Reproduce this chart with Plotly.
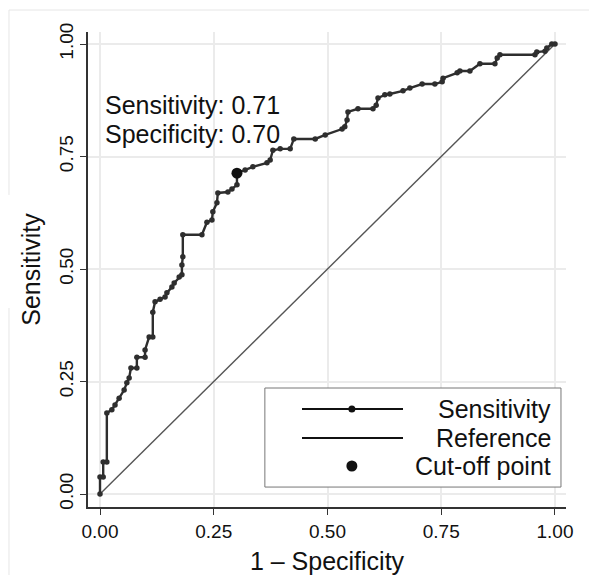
import plotly.graph_objects as go

# ROC curve points (1 - specificity, sensitivity)
fpr = [0.000, 0.000, 0.007, 0.007, 0.015, 0.015, 0.026, 0.033, 0.042, 0.053,
       0.059, 0.064, 0.068, 0.081, 0.081, 0.099, 0.099, 0.108, 0.116, 0.116,
       0.121, 0.132, 0.143, 0.147, 0.158, 0.163, 0.174, 0.180, 0.180, 0.182,
       0.182, 0.224, 0.235, 0.246, 0.248, 0.257, 0.259, 0.281, 0.290, 0.301,
       0.301, 0.319, 0.336, 0.367, 0.374, 0.380, 0.396, 0.418, 0.426, 0.473,
       0.495, 0.532, 0.538, 0.543, 0.545, 0.567, 0.600, 0.607, 0.611, 0.626,
       0.637, 0.666, 0.681, 0.708, 0.736, 0.752, 0.754, 0.785, 0.791, 0.813,
       0.835, 0.868, 0.873, 0.879, 0.956, 0.960, 0.978, 0.982, 0.993, 1.000]
sens = [0.000, 0.038, 0.038, 0.071, 0.071, 0.180, 0.187, 0.198, 0.213, 0.231,
        0.247, 0.258, 0.280, 0.280, 0.304, 0.304, 0.320, 0.349, 0.349, 0.404,
        0.427, 0.433, 0.438, 0.447, 0.460, 0.469, 0.482, 0.487, 0.509, 0.527,
        0.576, 0.576, 0.604, 0.609, 0.627, 0.647, 0.669, 0.671, 0.678, 0.687,
        0.713, 0.720, 0.727, 0.736, 0.742, 0.764, 0.767, 0.767, 0.789, 0.789,
        0.798, 0.811, 0.816, 0.831, 0.849, 0.856, 0.856, 0.864, 0.880, 0.887,
        0.889, 0.896, 0.902, 0.911, 0.911, 0.916, 0.924, 0.936, 0.940, 0.940,
        0.956, 0.956, 0.969, 0.976, 0.976, 0.982, 0.984, 0.991, 1.000, 1.000]

ref_x = [0.0, 1.0]
ref_y = [0.0, 1.0]

cut_fpr = [0.301]
cut_sens = [0.713]
auc = 0.74

tick_vals = [0.0, 0.25, 0.5, 0.75, 1.0]
tick_text = ["0.00", "0.25", "0.50", "0.75", "1.00"]

legend_labels = ["Sensitivity", "Reference", "Cut-off point"]

FONT = "Liberation Sans, Arial, Helvetica, sans-serif"
DARK = "#2e2e2e"

fig = go.Figure()
fig.add_trace(go.Scatter(x=ref_x, y=ref_y, mode="lines",
                         line=dict(color="#555555", width=1.4),
                         showlegend=False, hoverinfo="skip"))
fig.add_trace(go.Scatter(x=fpr, y=sens, mode="lines+markers",
                         line=dict(color=DARK, width=2.4),
                         marker=dict(color=DARK, size=5.5),
                         showlegend=False))
fig.add_trace(go.Scatter(x=cut_fpr, y=cut_sens, mode="markers",
                         marker=dict(color="#111111", size=11),
                         showlegend=False))

# Annotations
fig.add_annotation(x=0.0066, y=0.864, xref="x", yref="y", xanchor="left",
                   yanchor="middle", showarrow=False,
                   text=f"Sensitivity: {cut_sens[0]:.2f}",
                   font=dict(family=FONT, size=25, color="#111"))
fig.add_annotation(x=0.0066, y=0.800, xref="x", yref="y", xanchor="left",
                   yanchor="middle", showarrow=False,
                   text=f"Specificity: {1 - cut_fpr[0]:.2f}",
                   font=dict(family=FONT, size=25, color="#111"))
fig.add_annotation(x=1.0615, y=0.32, xref="x", yref="y", xanchor="right",
                   yanchor="middle", showarrow=False,
                   text=f"Area under ROC curve = {auc:.2f}",
                   font=dict(family=FONT, size=25, color="#111"))

# Manual legend
shapes = []
shapes.append(dict(type="rect", xref="paper", yref="paper", x0=0.370, x1=0.9895,
                   y0=0.042, y1=0.2505, fillcolor="white",
                   line=dict(color="#777777", width=1), layer="above"))
rows = [0.2063, 0.1453, 0.0863]
for i, (lab, ry) in enumerate(zip(legend_labels, rows)):
    if i < 2:
        shapes.append(dict(type="line", xref="paper", yref="paper",
                           x0=0.4477, x1=0.659, y0=ry, y1=ry,
                           line=dict(color="#111111", width=2), layer="above"))
    if i != 1:
        r = 3.5 if i == 0 else 5.5
        shapes.append(dict(type="circle", xref="paper", yref="paper",
                           xsizemode="pixel", ysizemode="pixel",
                           xanchor=0.552, yanchor=ry,
                           x0=-r, x1=r, y0=-r, y1=r,
                           fillcolor="#111111", line=dict(color="#111111", width=0),
                           layer="above"))
    fig.add_annotation(x=0.9728, y=ry, xref="paper", yref="paper",
                       xanchor="right", yanchor="middle", showarrow=False,
                       text=lab, font=dict(family=FONT, size=25, color="#111"))

# Light outer frame (as in the scanned figure)
frame = dict(color="#e6e6e6", width=1)
shapes.append(dict(type="line", xref="paper", yref="paper", x0=-0.1653, x1=1.05,
                   y0=1.0463, y1=1.0463, line=frame))
shapes.append(dict(type="line", xref="paper", yref="paper", x0=-0.1653, x1=-0.1653,
                   y0=1.0463, y1=0.657, line=frame))
shapes.append(dict(type="line", xref="paper", yref="paper", x0=-0.1653, x1=-0.1653,
                   y0=0.419, y1=-0.15, line=frame))

axis_common = dict(
    tickvals=tick_vals, ticktext=tick_text,
    showgrid=True, gridcolor="#ebebeb", gridwidth=1.5,
    zeroline=False, showline=True, linecolor="#333333", linewidth=1.5,
    ticks="outside", ticklen=6, tickcolor="#333333", tickwidth=1.2,
    tickfont=dict(family=FONT, size=19, color="#111"),
    mirror=False, automargin=False,
)

fig.update_layout(
    template="none",
    width=589, height=575,
    margin=dict(l=88, r=23, t=32, b=68),
    paper_bgcolor="white", plot_bgcolor="white",
    showlegend=False,
    shapes=shapes,
    xaxis=dict(range=[-0.0264, 1.0242],
               title=dict(text="1 – Specificity", standoff=12,
                          font=dict(family=FONT, size=25, color="#111")),
               **axis_common),
    yaxis=dict(range=[-0.0289, 1.0267], tickangle=-90,
               title=dict(text="Sensitivity", standoff=8,
                          font=dict(family=FONT, size=25, color="#111")),
               **axis_common),
)

fig.write_html("out.html",
               config={"displayModeBar": False},
               post_script="document.body.style.margin='0';document.body.style.padding='0';")
